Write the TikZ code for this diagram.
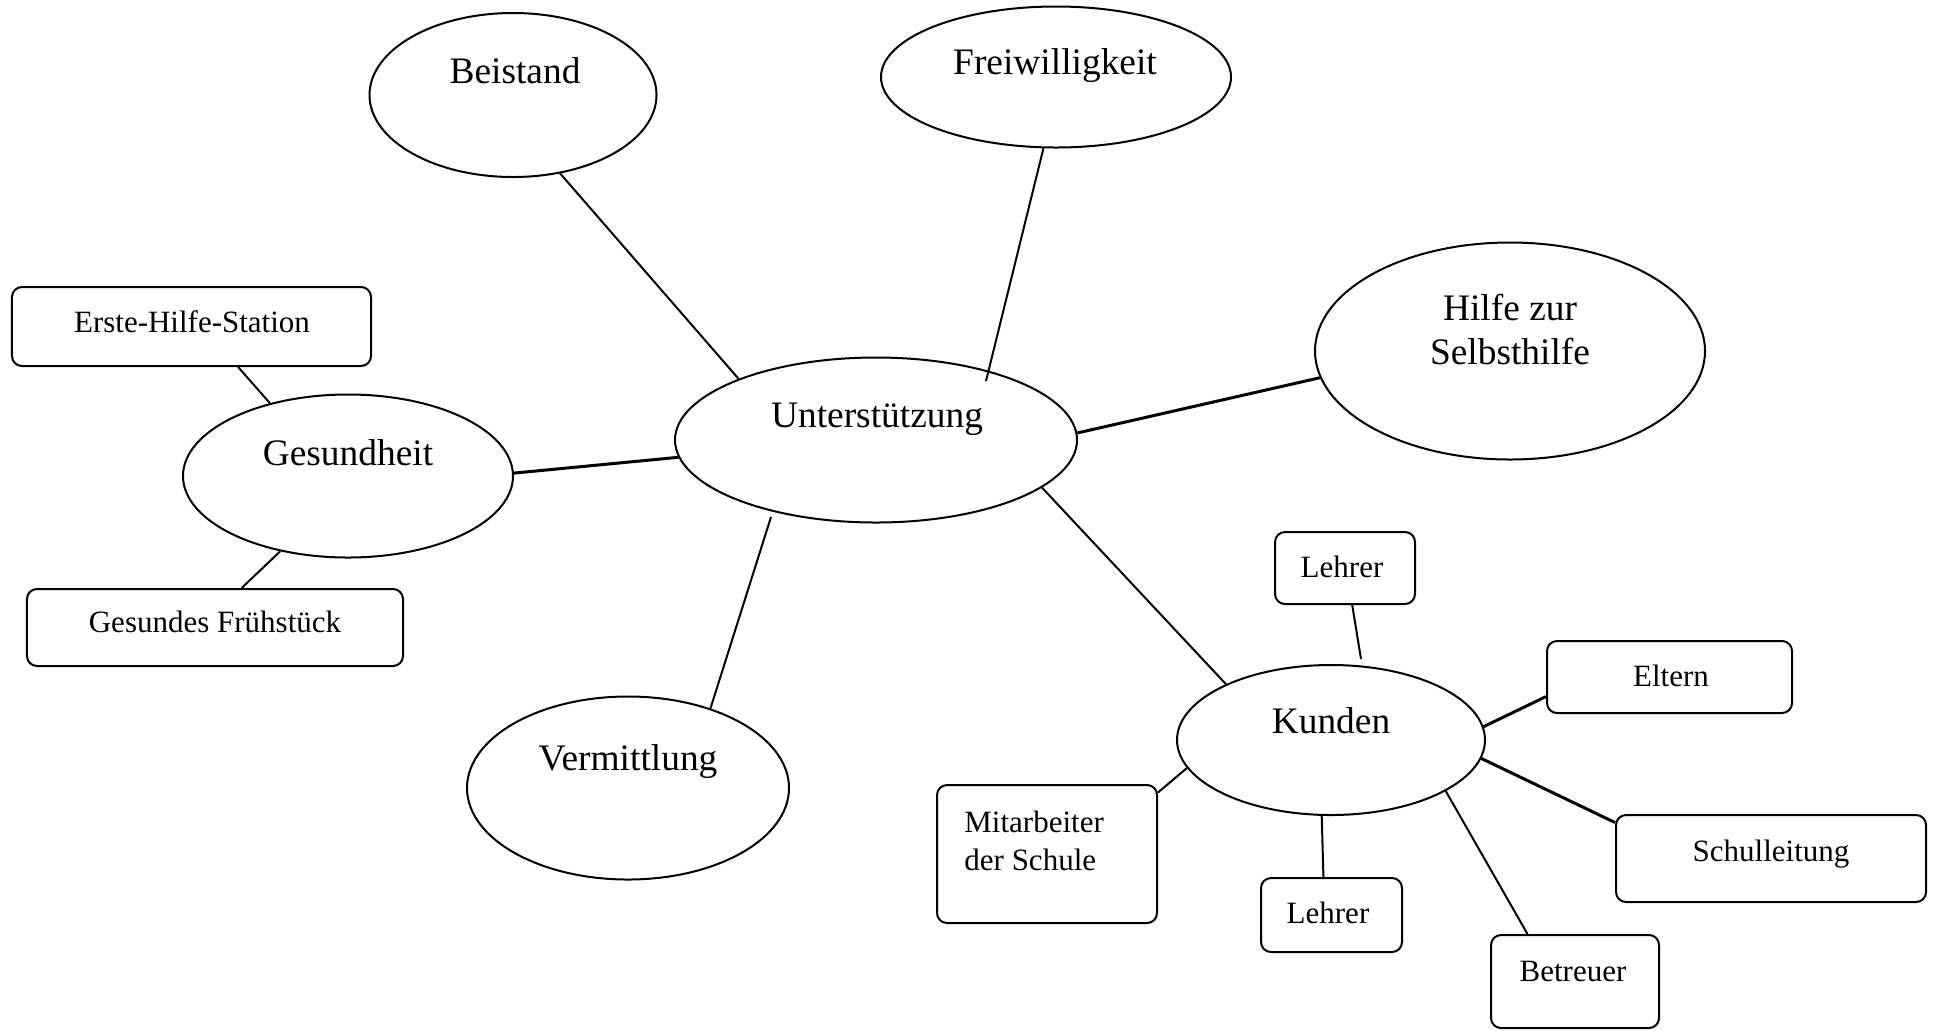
\documentclass[tikz,border=0pt]{standalone}
\usepackage{fontspec}
\setmainfont{Liberation Serif}
\usetikzlibrary{shapes.geometric,calc}
\begin{document}
\begin{tikzpicture}[x=0.5bp,y=-0.5bp,
  bubble/.style={ellipse, draw, line width=1bp, inner sep=0pt},
  tag/.style={rectangle, draw, rounded corners=5bp, line width=1bp, inner sep=0pt},
  big/.style={font=\fontsize{18.7bp}{22bp}\selectfont, inner sep=0pt, anchor=base},
  small/.style={font=\fontsize{15.5bp}{19bp}\selectfont, inner sep=0pt, anchor=base},
  link/.style={line width=1bp},
  heavy/.style={line width=1.5bp}]
\useasboundingbox (0,0) rectangle (1934,1030);

% main bubbles
\node[bubble, minimum width=143.5bp, minimum height=82bp]   (beistand) at (513,95) {};
\node[bubble, minimum width=175bp,   minimum height=70.5bp] (freiw)    at (1056,77) {};
\node[bubble, minimum width=195bp,   minimum height=108.5bp](hilfe)    at (1510,351) {};
\node[bubble, minimum width=201bp,   minimum height=82.5bp] (unter)    at (876,440) {};
\node[bubble, minimum width=165bp,   minimum height=81.5bp] (gesund)   at (348,476) {};
\node[bubble, minimum width=161bp,   minimum height=91.5bp] (vermitt)  at (628,788) {};
\node[bubble, minimum width=154bp,   minimum height=75bp]   (kunden)   at (1331,740) {};

\node[big] (beistand-t) at (515,83)   {Beistand};
\node[big] (freiw-t)    at (1055,74)  {Freiwilligkeit};
\node[big] (hilfe-t1)   at (1510,320) {Hilfe zur};
\node[big] (hilfe-t2)   at (1510,364) {Selbsthilfe};
\node[big] (unter-t)    at (877,427)  {Unterstützung};
\node[big] (gesund-t)   at (348,465)  {Gesundheit};
\node[big] (vermitt-t)  at (628,770)  {Vermittlung};
\node[big] (kunden-t)   at (1331,733) {Kunden};

% small boxes
\node[tag, minimum width=179.5bp, minimum height=39.5bp] (erste)    at (191.5,326.5) {};
\node[tag, minimum width=188bp,   minimum height=38.5bp] (fruehst)  at (215,627.5) {};
\node[tag, minimum width=70bp,    minimum height=36bp]   (lehrerA)  at (1345,568) {};
\node[tag, minimum width=122.5bp, minimum height=36bp]   (eltern)   at (1669.5,677) {};
\node[tag, minimum width=155bp,   minimum height=43.5bp] (schul)    at (1771,858.5) {};
\node[tag, minimum width=84bp,    minimum height=46.5bp] (betreuer) at (1575,981.5) {};
\node[tag, minimum width=70.5bp,  minimum height=37bp]   (lehrerB)  at (1331.5,915) {};
\node[tag, minimum width=110bp,   minimum height=69bp]   (mitarb)   at (1047,854) {};

\node[small] (erste-t)    at (192,332)  {Erste-Hilfe-Station};
\node[small] (fruehst-t)  at (215,632)  {Gesundes Frühstück};
\node[small] (lehrerA-t)  at (1342,577) {Lehrer};
\node[small] (eltern-t)   at (1671,686) {Eltern};
\node[small] (schul-t)    at (1771,861) {Schulleitung};
\node[small] (betreuer-t) at (1573,981) {Betreuer};
\node[small] (lehrerB-t)  at (1328,923) {Lehrer};
\node[small, anchor=base west] (mitarb-t1) at (964,832) {Mitarbeiter};
\node[small, anchor=base west] (mitarb-t2) at (964,870) {der Schule};

% connectors around the centre
\draw[link]  (beistand.-59.7) -- (unter.156.8);
\draw[link]  (freiw.260.4)    -- ($(unter.center)+(110,-59)$);
\draw[heavy] (unter.2)        -- (hilfe.188.7);
\draw[heavy] (gesund.1)       -- (unter.185.4);
\draw[link]  ($(unter.center)+(-105,77)$) -- (vermitt.44.6);
\draw[link]  (unter.-16.5)    -- (kunden.152.6);

% connectors of Gesundheit
\draw[link]  (erste.-41.6)    -- (gesund.137.4);
\draw[link]  (gesund.228.4)   -- (fruehst.56.3);

% connectors of Kunden
\draw[link]  (lehrerA.-79.8)  -- ($(kunden.center)+(30,-81)$);
\draw[heavy] (kunden.5.2)     -- (eltern.189.3);
\draw[heavy] (kunden.-7.5)    -- (schul.167.8);
\draw[link]  (kunden.-24)     -- (betreuer.135.9);
\draw[link]  (kunden.263.7)   -- (lehrerB.102.9);
\draw[link]  (kunden.191.1)   -- (mitarb.29.6);
\end{tikzpicture}
\end{document}
